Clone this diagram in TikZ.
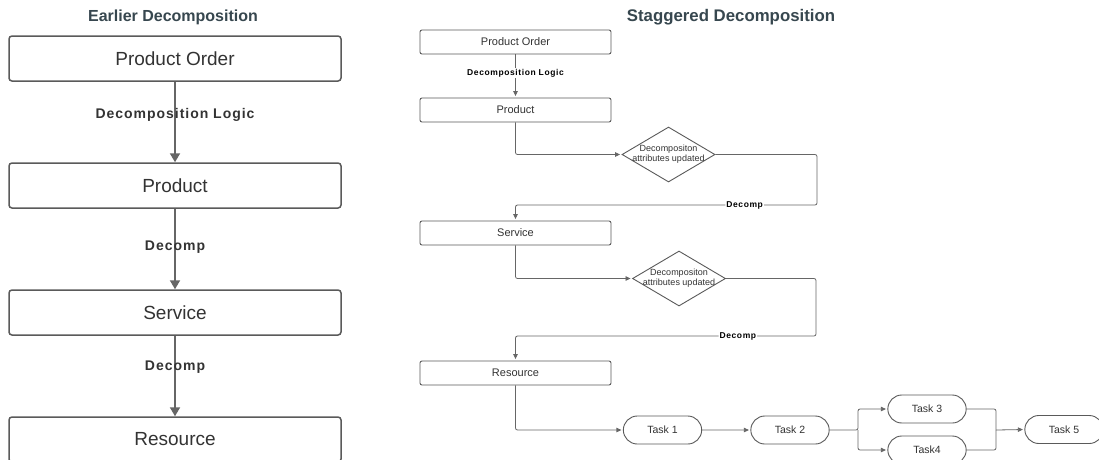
\documentclass[tikz,border=0pt]{standalone}
\usepackage{fontspec}
\setmainfont{Liberation Sans}
\newfontfamily\lblfont[LetterSpace=7]{Liberation Sans}
\usetikzlibrary{positioning,calc,arrows.meta,shapes.geometric,shapes.misc}
\definecolor{linegray}{HTML}{666666}
\definecolor{boxgray}{HTML}{5A5A5A}
\definecolor{txtgray}{HTML}{333333}
\definecolor{titleblue}{HTML}{37474F}
\tikzset{
	title/.style={font=\fontsize{16}{19}\selectfont\bfseries, text=titleblue},
	bigbox/.style={draw=boxgray, line width=1.5pt, rounded corners=3pt, minimum width=332pt, minimum height=45pt, text=txtgray, font=\fontsize{19}{22}\selectfont},
	smallbox/.style={draw=boxgray, line width=0.9pt, rounded corners=2pt, minimum width=191pt, minimum height=24pt, text=txtgray, font=\fontsize{11}{13}\selectfont},
	decision/.style={draw=boxgray, line width=0.9pt, diamond, aspect=1.7, inner sep=-3pt, minimum width=93pt, minimum height=55pt, align=center, text=txtgray, font=\fontsize{9}{10}\selectfont},
	task/.style={draw=boxgray, line width=0.9pt, rounded rectangle, minimum width=85pt, minimum height=28pt, text=txtgray, font=\fontsize{10.5}{12}\selectfont},
	biglbl/.style={font=\lblfont\fontsize{14}{16}\selectfont\bfseries, text=txtgray},
	smalllbl/.style={font=\lblfont\fontsize{8.5}{10}\selectfont\bfseries, text=black, fill=white, inner sep=1pt},
	bigarrow/.style={draw=linegray, line width=1.8pt, -{Triangle[length=9pt,width=10pt]}},
	smallline/.style={draw=linegray, line width=0.8pt, rounded corners=2pt},
	smallarrow/.style={smallline, shorten >=1.5pt, -{Triangle[length=5pt,width=4.5pt]}},
}

\begin{document}
\begin{tikzpicture}[x=1pt,y=-1pt]
	\path[use as bounding box, clip] (0,0) rectangle (1099,459);
	\fill[white] (0,0) rectangle (1099,459);

	\begin{scope}
		\node[title] (titleA) at (173,17) {Earlier Decomposition};
		\node[bigbox] (order) at (175,58.5) {Product Order};
		\node[bigbox] (prod) at (175,185.5) {Product};
		\node[bigbox] (serv) at (175,312.5) {Service};
		\node[bigbox] (res) at (175,439.5) {Resource};

		\draw[bigarrow] (order) -- (prod);
		\draw[bigarrow] (prod) -- (serv);
		\draw[bigarrow] (serv) -- (res);

		\node[biglbl] (logicA) at (175,115) {Decomposition Logic};
		\node[biglbl] (decA) at (175,247) {Decomp};
		\node[biglbl] (decB) at (175,367) {Decomp};
	\end{scope}

	\begin{scope}
		\node[title, font=\fontsize{16.8}{19}\selectfont\bfseries] (titleB) at (731,17) {Staggered Decomposition};
		\node[smallbox] (order2) at (515.5,42) {Product Order};
		\node[smallbox] (prod2) at (515.5,110) {Product};
		\node[decision] (dec1) at (668.5,154.5) {Decompositon\\attributes updated};
		\node[smallbox] (serv2) at (515.5,233) {Service};
		\node[decision] (dec2) at (679,278.5) {Decompositon\\attributes updated};
		\node[smallbox] (res2) at (515.5,373) {Resource};
		\node[task] (t1) at (662.5,430) {Task 1};
		\node[task] (t2) at (790,430) {Task 2};
		\node[task] (t3) at (927,409) {Task 3};
		\node[task] (t4) at (927,450) {Task4};
		\node[task] (t5) at (1064,429.5) {Task 5};
		\coordinate (bend1) at (817,205);
		\coordinate (bend2) at (816,336);
		\coordinate (fork) at (858,430);
		\coordinate (join) at (996,430);

		\draw[smallarrow] (order2) -- node[smalllbl, pos=0.43] {Decomposition Logic} (prod2);
		\draw[smallarrow] (prod2.south) |- (dec1.west);
		\draw[smallarrow] (dec1.east) -| (bend1) -| node[smalllbl, pos=0.12] {Decomp} (serv2.north);
		\draw[smallarrow] (serv2.south) |- (dec2.west);
		\draw[smallarrow] (dec2.east) -| (bend2) -| node[smalllbl, pos=0.13] {Decomp} (res2.north);
		\draw[smallarrow] (res2.south) |- (t1.west);
		\draw[smallarrow] (t1) -- (t2);
		\draw[smallarrow] (t2.east) -- (fork) |- (t3.west);
		\draw[smallarrow] (fork) |- (t4.west);
		\draw[smallline] (t3.east) -| (join);
		\draw[smallline] (t4.east) -| (join);
		\draw[smallarrow] (join) -- (t5.west);
	\end{scope}
\end{tikzpicture}
\end{document}
